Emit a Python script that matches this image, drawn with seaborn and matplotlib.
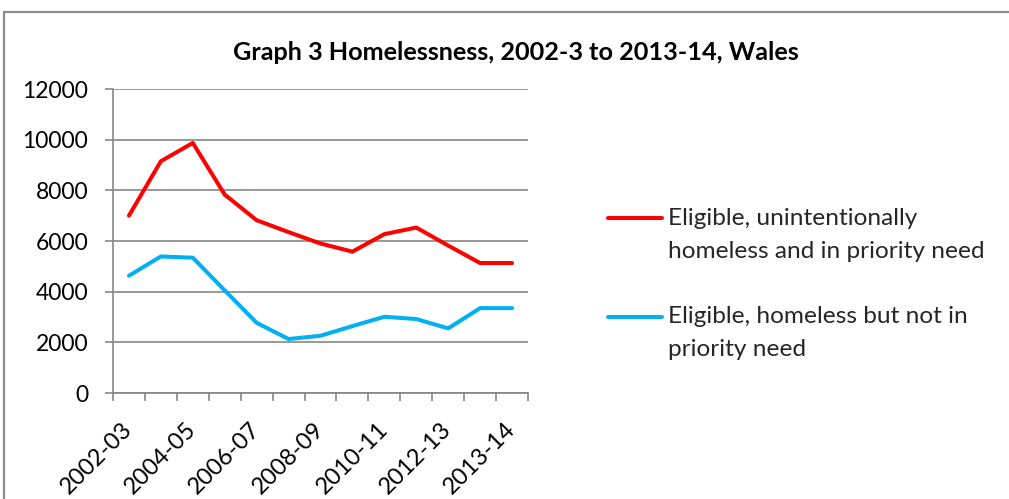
import numpy as np
import pandas as pd
import matplotlib
matplotlib.use("Agg")
import matplotlib.pyplot as plt
from matplotlib.lines import Line2D
import seaborn as sns

# ---- data ----
years = ["2002-03", "2003-04", "2004-05", "2005-06", "2006-07", "2007-08",
         "2008-09", "2009-10", "2010-11", "2011-12", "2012-13", "2013-14", "2013-14"]
series_names = ["Eligible, unintentionally\nhomeless and in priority need",
                "Eligible, homeless but not in\npriority need"]
priority_need = [7000, 9150, 9870, 7830, 6820, 6350, 5900, 5580, 6270, 6530, 5820, 5130, 5130]
not_priority = [4630, 5390, 5340, 4050, 2770, 2130, 2260, 2640, 3010, 2920, 2550, 3350, 3350]
y_ticks = [0, 2000, 4000, 6000, 8000, 10000, 12000]
title = "Graph 3 Homelessness, 2002-3 to 2013-14, Wales"

colors = ["#FF0000", "#00B0F0"]
grid_col = "#868686"

n = len(years)
df = pd.DataFrame({
    "idx": list(range(n)) * 2,
    "value": priority_need + not_priority,
    "series": [series_names[0]] * n + [series_names[1]] * n,
})

sns.set_theme(style="white")
plt.rcParams['font.family'] = ['Lato', 'DejaVu Sans']

W, H = 1009, 499
fig = plt.figure(figsize=(W / 100, H / 100), dpi=100)
ax = fig.add_axes([113 / W, 1 - 393 / H, 415 / W, 304 / H])

sns.lineplot(data=df, x="idx", y="value", hue="series", palette=colors,
             linewidth=2.9, ax=ax, legend=True)

ax.set_xlim(-0.5, n - 0.5)
ax.set_ylim(0, 12000)
ax.set_yticks(y_ticks)
ax.set_yticklabels([str(v) for v in y_ticks])
ax.set_xticks(range(0, n, 2))
ax.set_xticklabels([years[i] for i in range(0, n, 2)], rotation=45,
                   ha="right", va="center", rotation_mode="anchor")
ax.set_xticks(np.arange(-0.5, n, 1), minor=True)
ax.set_xlabel("")
ax.set_ylabel("")

ax.grid(axis="y", color=grid_col, linewidth=1.2)
ax.set_axisbelow(True)
for s in ["top", "right"]:
    ax.spines[s].set_visible(False)
for s in ["left", "bottom"]:
    ax.spines[s].set_color(grid_col)
    ax.spines[s].set_linewidth(1.2)

ax.tick_params(axis="y", which="major", length=5.8, width=1.2, color=grid_col,
               direction="out", left=True, pad=12, labelsize=16.5, labelcolor="black")
ax.tick_params(axis="x", which="major", length=0, pad=24, labelsize=17, labelcolor="black")
ax.tick_params(axis="x", which="minor", length=5.8, width=1.2, color=grid_col,
               direction="out", bottom=True)

handles, labels = ax.get_legend_handles_labels()
ax.get_legend().remove()
leg = fig.legend(handles, labels, loc="upper left",
                 bbox_to_anchor=(608 / W, 1 - 208 / H),
                 frameon=False, fontsize=17.6, handlelength=2.2,
                 handletextpad=0.25, labelspacing=1.8, borderpad=0,
                 borderaxespad=0)
for t in leg.get_texts():
    t.set_linespacing(1.72)
for h in leg.legend_handles:
    h.set_linewidth(2.9)
    yd = np.asarray(h.get_ydata(), dtype=float)
    h.set_ydata(yd + 12.0)

fig.text(516 / W, 1 - 52 / H, title, ha="center", va="center",
         fontsize=18.2, fontweight="bold", color="black")

# outer chart border (top and left visible)
fig.add_artist(Line2D([4 / W, 1.0], [1 - 12 / H, 1 - 12 / H], transform=fig.transFigure,
                      color="#8a8a8a", linewidth=1.6))
fig.add_artist(Line2D([4 / W, 4 / W], [0.0, 1 - 12 / H], transform=fig.transFigure,
                      color="#8a8a8a", linewidth=1.6))

fig.savefig("out.png", dpi=100)
